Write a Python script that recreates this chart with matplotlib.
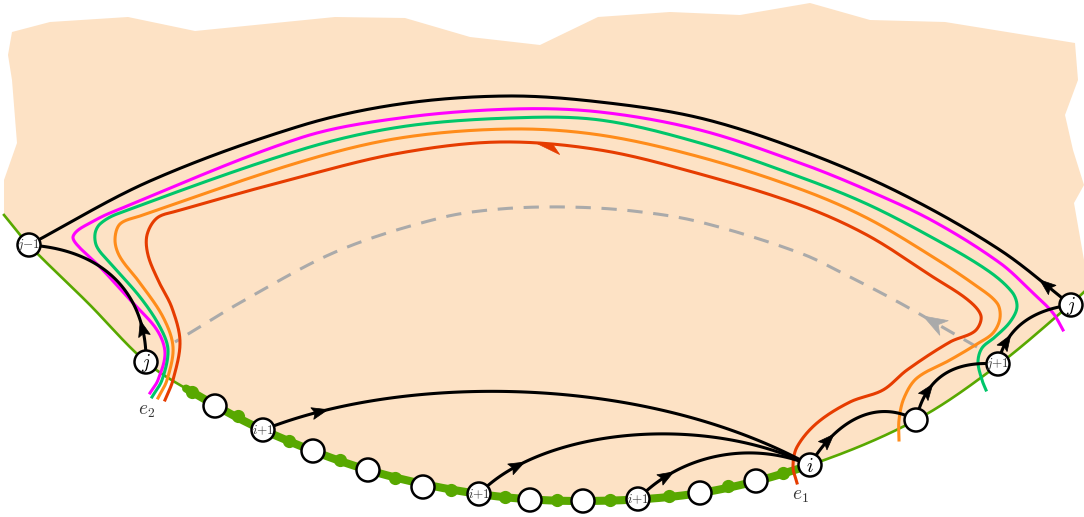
import numpy as np
import matplotlib.pyplot as plt
from matplotlib.patches import Polygon, Circle

plt.rcParams['mathtext.fontset'] = 'cm'

# pixel-space diagram, y grows downward
W, H = 1084, 517

# jagged top/sides of the shaded region
top_edge = [(12, 32), (50, 22), (128, 17), (195, 31), (335, 17), (405, 18), (470, 37),
            (540, 45), (598, 17), (670, 12), (740, 15), (810, 3), (870, 20), (945, 22),
            (1075, 43), (1078, 80), (1065, 115), (1073, 150), (1084, 185), (1074, 203),
            (1084, 260)]
left_edge = [(4, 180), (17, 143), (12, 80), (8, 55)]

# boundary (green) through these points
boundary = [(4, 215), (29, 245), (88, 303), (146, 362), (192, 392), (263, 430), (368, 470),
            (479, 494), (583, 501), (700, 493), (810, 465), (916, 420), (998, 365),
            (1071, 304), (1084, 292)]
thick_from, thick_to = 185, 806
green_dots = [(192, 392), (238, 416), (289, 441), (340, 460), (395, 478), (451, 490),
              (505, 497), (557, 500), (610, 500), (669, 496), (728, 486), (783, 473)]

# vertices
node_xy = {
    'jm1': (29, 245), 'jL': (146, 362), 'b1': (215, 406), 'ip1a': (263, 430),
    'b2': (313, 451), 'b3': (368, 470), 'b4': (423, 487), 'ip1b': (479, 494),
    'b5': (530, 500), 'b6': (583, 501), 'ip1c': (638, 499), 'b7': (700, 493),
    'b8': (756, 481), 'i': (810, 465), 'b9': (916, 420), 'jp1': (998, 364),
    'jR': (1071, 305),
}
node_lbl = {'jm1': '$j{-}1$', 'jL': '$j$', 'ip1a': '$i{+}1$', 'ip1b': '$i{+}1$',
            'ip1c': '$i{+}1$', 'i': '$i$', 'jp1': '$j{+}1$', 'jR': '$j$'}

# directed black edges: tail, head, control points, arrow distance from tail
edges = [
    ('jL', 'jm1', (147, 300), (110, 250), 42),
    ('ip1a', 'i', (400, 375), (640, 372), 68),
    ('ip1b', 'i', (540, 430), (700, 412), 56),
    ('ip1c', 'i', (680, 455), (750, 440), 45),
    ('i', 'b9', (830, 430), (870, 395), 39),
    ('b9', 'jp1', (925, 380), (950, 360), 40),
    ('jp1', 'jR', (1005, 330), (1030, 310), 32),
]
top_arc = [(1071, 305), (1000, 250), (900, 193), (800, 150), (700, 118), (600, 102),
           (507, 96), (400, 104), (300, 126), (150, 181), (29, 245)]

red_path = [(797, 483), (793, 467), (797, 447), (817, 423), (850, 402), (883, 390),
            (907, 370), (950, 342), (975, 331), (981, 316), (968, 300), (933, 277),
            (867, 235), (800, 205), (700, 174), (600, 150), (500, 142), (400, 153),
            (300, 177), (177, 211), (157, 218), (147, 235), (148, 255),
            (158, 280), (172, 308), (180, 342), (173, 380), (165, 400)]
orange_path = [(158, 398), (167, 380), (173, 347), (163, 317), (140, 283), (120, 257),
               (115, 240), (120, 224), (140, 216), (300, 162), (400, 138),
               (510, 129), (600, 135), (700, 157), (800, 189), (867, 218), (933, 257),
               (975, 285), (997, 303), (1000, 318), (993, 333), (977, 344), (950, 360),
               (917, 378), (904, 398), (899, 420), (899, 440)]
green_path = [(152, 397), (162, 380), (168, 350), (160, 327), (140, 297), (110, 263),
              (97, 247), (95, 234), (100, 224), (117, 214), (300, 150),
              (400, 127), (510, 118), (600, 120), (700, 143), (800, 177), (867, 204),
              (933, 238), (987, 270), (1012, 292), (1017, 307), (1010, 322), (995, 337),
              (982, 348), (978, 362), (982, 380), (986, 390)]
magenta_path = [(150, 393), (158, 380), (165, 353), (157, 330), (133, 303), (100, 267),
                (80, 248), (73, 238), (77, 231), (90, 223), (110, 213),
                (300, 138), (400, 118), (513, 109), (600, 112), (700, 130), (800, 163),
                (867, 190), (933, 221), (1000, 263), (1033, 293), (1053, 313), (1063, 330)]
gray_path = [(977, 347), (900, 303), (850, 277), (800, 253), (700, 222), (633, 211),
             (567, 207), (500, 209), (440, 218), (340, 250), (250, 297), (175, 342)]

PEACH = '#fde2c5'
GREEN = '#58a800'


def spline(pts, n=40):
    # chord-length Catmull-Rom turned into cubic Bezier pieces
    p = np.asarray(pts, float)
    ext = np.vstack([p[0], p, p[-1]])
    t = np.linspace(0, 1, n, endpoint=False)[:, None]
    out = []
    for k in range(1, len(ext) - 2):
        p0, p1, p2, p3 = ext[k - 1], ext[k], ext[k + 1], ext[k + 2]
        d0, d1, d2 = (np.hypot(*(p1 - p0)), np.hypot(*(p2 - p1)), np.hypot(*(p3 - p2)))
        m1 = (p2 - p0) / (d0 + d1)
        m2 = (p3 - p1) / (d1 + d2)
        c1 = p1 + m1 * d1 / 3
        c2 = p2 - m2 * d1 / 3
        out.append((1 - t) ** 3 * p1 + 3 * (1 - t) ** 2 * t * c1
                   + 3 * (1 - t) * t ** 2 * c2 + t ** 3 * p2)
    out.append(p[-1:])
    return np.vstack(out)


def bezier(p0, p1, p2, p3, n=120):
    t = np.linspace(0, 1, n)[:, None]
    p0, p1, p2, p3 = [np.asarray(q, float) for q in (p0, p1, p2, p3)]
    return ((1 - t) ** 3 * p0 + 3 * (1 - t) ** 2 * t * p1
            + 3 * (1 - t) * t ** 2 * p2 + t ** 3 * p3)


def arrowhead(curve, d, L, wd, color, harpoon=False, notch=0.82, z=6):
    s = np.concatenate([[0], np.cumsum(np.hypot(*np.diff(curve, axis=0).T))])
    tip = np.array([np.interp(d, s, curve[:, 0]), np.interp(d, s, curve[:, 1])])
    bk = np.array([np.interp(d - L * 0.6, s, curve[:, 0]),
                   np.interp(d - L * 0.6, s, curve[:, 1])])
    u = (tip - bk) / np.hypot(*(tip - bk))
    nv = np.array([-u[1], u[0]])
    if harpoon:
        if nv[1] < 0:
            nv = -nv
        pts = [tip, tip - L * u + wd * nv, tip - 0.7 * L * u + 0.5 * nv]
    else:
        pts = [tip, tip - L * u + wd / 2 * nv, tip - notch * L * u, tip - L * u - wd / 2 * nv]
    ax.add_patch(Polygon(pts, closed=True, fc=color, ec=color, lw=0.5, zorder=z))


fig = plt.figure(figsize=(W / 100, H / 100), dpi=100)
ax = fig.add_axes([0, 0, 1, 1])
ax.set_xlim(0, W)
ax.set_ylim(H, 0)
ax.axis('off')

bnd = spline(boundary)
outline = np.vstack([np.array(top_edge), bnd[::-1], np.array(left_edge)])
ax.add_patch(Polygon(outline, closed=True, fc=PEACH, ec='none', zorder=0))

ax.plot(bnd[:, 0], bnd[:, 1], color=GREEN, lw=1.9, zorder=1)
m = (bnd[:, 0] >= thick_from) & (bnd[:, 0] <= thick_to)
ax.plot(bnd[m, 0], bnd[m, 1], color=GREEN, lw=5.8, solid_capstyle='round', zorder=1)
gx, gy = zip(*green_dots)
ax.plot(gx, gy, 'o', color=GREEN, ms=9.5, mec='none', zorder=1)

gray = spline(gray_path)
ax.plot(gray[:, 0], gray[:, 1], color='#aaaaaa', lw=2.2, ls=(0, (5, 3.5)), zorder=2)
arrowhead(gray, 62, 24, 17, '#aaaaaa', notch=0.72, z=2)

for pts, col in [(magenta_path, '#ff00ff'), (green_path, '#00c66a'),
                 (orange_path, '#ff8c1a'), (red_path, '#e63c00')]:
    c = spline(pts)
    ax.plot(c[:, 0], c[:, 1], color=col, lw=2.2, zorder=3)
red = spline(red_path)
arrowhead(red, 757, 25, 10, '#e63c00', harpoon=True, z=3)

arc = spline(top_arc)
ax.plot(arc[:, 0], arc[:, 1], color='black', lw=2.2, zorder=4)
arrowhead(arc, 40, 16, 12, 'black')
for tail, head, c1, c2, d in edges:
    c = bezier(node_xy[tail], c1, c2, node_xy[head])
    ax.plot(c[:, 0], c[:, 1], color='black', lw=2.2, zorder=4)
    arrowhead(c, d, 16, 12, 'black')

for key, (x, y) in node_xy.items():
    ax.add_patch(Circle((x, y), 11.5, fc='white', ec='black', lw=1.8, zorder=7))
    lbl = node_lbl.get(key)
    if lbl:
        big = lbl in ('$j$', '$i$')
        ax.text(x, y + (1 if big else 0), lbl, ha='center', va='center',
                fontsize=14 if big else 9.5, color='black' if big else '#333333', zorder=8)

ax.text(147, 410, '$e_2$', ha='center', va='center', fontsize=14, color='#333333')
ax.text(800, 495, '$e_1$', ha='center', va='center', fontsize=14, color='#333333')

fig.savefig('out.png', dpi=100)
